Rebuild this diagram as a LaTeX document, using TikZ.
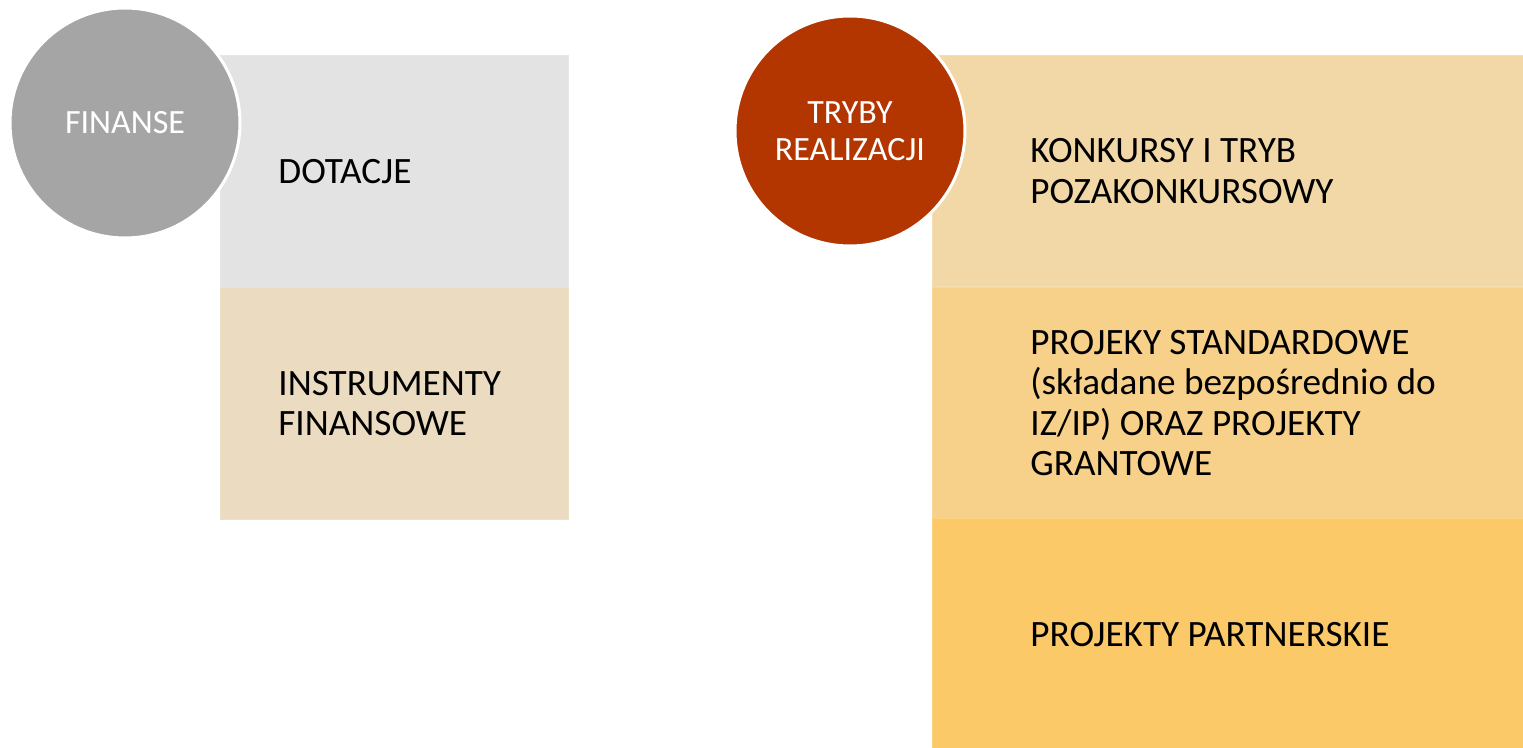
\documentclass[tikz,border=0pt]{standalone}
\usepackage{fontspec}
\setmainfont{Carlito}
\usetikzlibrary{positioning}

\definecolor{finGray}{HTML}{A5A5A5}
\definecolor{dotFill}{HTML}{E3E3E3}
\definecolor{instFill}{HTML}{EBDCC1}
\definecolor{trybRed}{HTML}{B33500}
\definecolor{konFill}{HTML}{F2D8A7}
\definecolor{stdFill}{HTML}{F7D089}
\definecolor{partFill}{HTML}{FCC968}

\begin{document}
\begin{tikzpicture}[x=0.5pt, y=-0.5pt,
  box/.style={rectangle, anchor=north west, inner sep=0, fill=#1, draw=#1!85!white, line width=0.4pt},
  lbox/.style={box=#1, minimum width=174pt, minimum height=116pt},
  rbox/.style={box=#1, minimum width=295.5pt, minimum height=115.5pt},
  blob/.style={circle, fill=#1, draw=white, line width=1.5pt, minimum size=115pt, inner sep=0,
    align=center, text=white, font=\fontsize{17}{18.5}\selectfont},
  txt/.style={inner sep=0, align=left, font=\fontsize{18.6}{20.25}\selectfont}]
\useasboundingbox (0,0) rectangle (1523,748);
% left column
\node[lbox=dotFill] (dot) at (220,55) {};
\node[lbox=instFill] (inst) at (220,287) {};
\node[txt, right=29pt of dot.west] (dotT) {DOTACJE};
\node[txt, right=29pt of inst.west] (instT) {INSTRUMENTY\\FINANSOWE};
\node[blob=finGray] (fin) at (125,123) {FINANSE};
% right column
\node[rbox=konFill] (kon) at (932,55) {};
\node[rbox=stdFill] (std) at (932,287) {};
\node[rbox=partFill, minimum height=116pt] (part) at (932,518) {};
\node[txt, right=49pt of kon.west] (konT) {KONKURSY I TRYB\\POZAKONKURSOWY};
\node[txt, right=49pt of std.west] (stdT) {PROJEKY STANDARDOWE\\(składane bezpośrednio do\\IZ/IP) ORAZ PROJEKTY\\GRANTOWE};
\node[txt, right=49pt of part.west] (partT) {PROJEKTY PARTNERSKIE};
\node[blob=trybRed] (tryb) at (850,131) {TRYBY\\REALIZACJI};
\end{tikzpicture}
\end{document}
